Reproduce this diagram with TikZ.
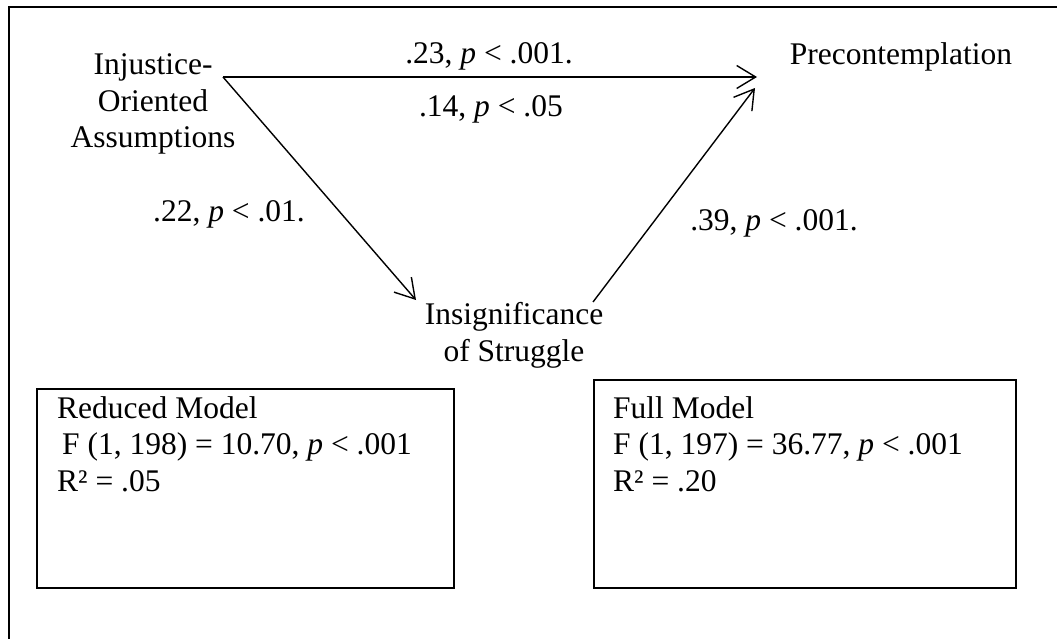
\documentclass[tikz,border=0pt]{standalone}
\usepackage{fontspec}
\setmainfont{Liberation Serif}
\usetikzlibrary{arrows.meta}
\begin{document}
\begin{tikzpicture}[x=1pt,y=-1pt,
  txt/.style={font=\fontsize{31.5}{36.5}\selectfont, inner sep=0pt, anchor=base},
  conn/.style={line width=1.4pt, -{Straight Barb[length=19pt,width=23pt,line width=1.4pt]}},
  modelbox/.style={draw, line width=1.8pt, inner sep=0pt, anchor=north west},
  frame/.style={line width=2.6pt}
]
\useasboundingbox (0,0) rectangle (1057,639);

% outer frame (right and bottom edges run off the page)
\draw[frame] (9,660) -- (9,7) -- (1080,7);

% variables (base anchor of a multi-line node sits on its last line)
\node[txt, align=center] (inj) at (153,148) {Injustice-\\Oriented\\Assumptions};
\node[txt] (pre) at (901,65) {Precontemplation};
\node[txt, align=center] (ins) at (514,361) {Insignificance\\of Struggle};

% arrow end points
\coordinate (injout) at (223,77);
\coordinate (preinA) at (757,77);
\coordinate (preinB) at (755,88);
\coordinate (insin) at (416,300);
\coordinate (insout) at (593,302);

% paths
\draw[conn] (injout) -- (preinA);
\draw[conn] (injout) -- (insin);
\draw[conn] (insout) -- (preinB);

% path coefficients
\node[txt] (c1) at (489,64) {.23, \textit{p} < .001.};
\node[txt] (c2) at (491,117) {.14, \textit{p} < .05};
\node[txt] (c3) at (229,222) {.22, \textit{p} < .01.};
\node[txt] (c4) at (774,230) {.39, \textit{p} < .001.};

% model summaries
\node[modelbox, minimum width=417pt, minimum height=199pt] (redbox) at (36,388) {};
\node[modelbox, minimum width=422pt, minimum height=208pt] (fullbox) at (593,379) {};
\node[txt, anchor=base west, align=left] (redtxt) at (57,491)
  {Reduced Model\\\hspace{5pt}F (1, 198) = 10.70, \textit{p} < .001\\R² = .05};
\node[txt, anchor=base west, align=left] (fulltxt) at (613,491)
  {Full Model\\F (1, 197) = 36.77, \textit{p} < .001\\R² = .20};
\end{tikzpicture}
\end{document}
